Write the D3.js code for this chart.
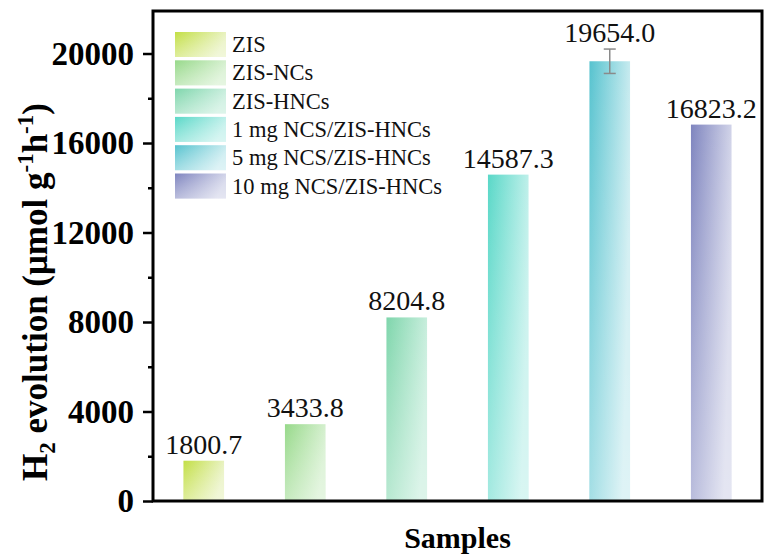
<!DOCTYPE html>
<html>
<head>
<meta charset="utf-8">
<script src="https://cdn.jsdelivr.net/npm/d3@7"></script>
<style>
  html, body { margin: 0; padding: 0; background: #fff; }
  svg { display: block; }
  text { font-family: "Liberation Serif", "Times New Roman", serif; }
</style>
</head>
<body>
<svg id="chart" width="764" height="559"></svg>
<script>
// Photocatalytic H2 evolution rates of each sample
const samples = ["ZIS", "ZIS-NCs", "ZIS-HNCs", "1 mg NCS/ZIS-HNCs", "5 mg NCS/ZIS-HNCs", "10 mg NCS/ZIS-HNCs"];
const rates = [1800.7, 3433.8, 8204.8, 14587.3, 19654.0, 16823.2];
const errors = [0, 0, 0, 0, 545, 0];
const majorTicks = [0, 4000, 8000, 12000, 16000, 20000];
const minorTicks = [2000, 6000, 10000, 14000, 18000];
const darkColors = ["#c3df45", "#97d98a", "#7fd6ac", "#5ad8c8", "#57c3cf", "#7f85bf"];
const lightColors = ["#eaf3c6", "#d8f1d2", "#cbefdf", "#c4f1ec", "#cdedf1", "#d6d8eb"];

const svg = d3.select("#chart");
const plot = { left: 153, right: 762, top: 11, bottom: 501 };

const x = d3.scaleBand()
  .domain(samples)
  .range([plot.left, plot.right])
  .paddingInner(0.6)
  .paddingOuter(0.3);

const y = d3.scaleLinear()
  .domain([0, 21900])
  .range([plot.bottom, plot.top]);

// Gradient fills: saturated at the top-left, fading toward the right
const defs = svg.append("defs");
samples.forEach((s, i) => {
  const g = defs.append("linearGradient")
    .attr("id", "grad" + i)
    .attr("x1", 0).attr("y1", 0)
    .attr("x2", 1).attr("y2", 0.25);
  g.append("stop").attr("offset", "0%").attr("stop-color", darkColors[i]);
  g.append("stop").attr("offset", "100%").attr("stop-color", lightColors[i]);
});
const fade = defs.append("linearGradient")
  .attr("id", "fade")
  .attr("x1", 0).attr("y1", 0).attr("x2", 0).attr("y2", 1);
fade.append("stop").attr("offset", "0%").attr("stop-color", "#fff").attr("stop-opacity", 0);
fade.append("stop").attr("offset", "100%").attr("stop-color", "#fff").attr("stop-opacity", 0.35);

// Bars
const bars = svg.append("g");
bars.selectAll("rect.bar")
  .data(rates)
  .join("rect")
  .attr("class", "bar")
  .attr("x", (d, i) => x(samples[i]))
  .attr("y", d => y(d))
  .attr("width", x.bandwidth())
  .attr("height", d => y(0) - y(d))
  .attr("fill", (d, i) => `url(#grad${i})`);
bars.selectAll("rect.fade")
  .data(rates)
  .join("rect")
  .attr("class", "fade")
  .attr("x", (d, i) => x(samples[i]))
  .attr("y", d => y(d))
  .attr("width", x.bandwidth())
  .attr("height", d => y(0) - y(d))
  .attr("fill", "url(#fade)");

// Error bars
const eb = svg.append("g").attr("stroke", "#8a8a8a").attr("stroke-width", 1.5);
rates.forEach((v, i) => {
  if (!errors[i]) return;
  const cx = x(samples[i]) + x.bandwidth() / 2;
  eb.append("line").attr("x1", cx).attr("x2", cx).attr("y1", y(v + errors[i])).attr("y2", y(v - errors[i]));
  eb.append("line").attr("x1", cx - 6).attr("x2", cx + 6).attr("y1", y(v + errors[i])).attr("y2", y(v + errors[i]));
  eb.append("line").attr("x1", cx - 6).attr("x2", cx + 6).attr("y1", y(v - errors[i])).attr("y2", y(v - errors[i]));
});

// Value labels
svg.append("g").selectAll("text")
  .data(rates)
  .join("text")
  .attr("x", (d, i) => x(samples[i]) + x.bandwidth() / 2)
  .attr("y", (d, i) => y(d + errors[i]) - 7)
  .attr("text-anchor", "middle")
  .attr("font-size", 28)
  .attr("fill", "#111")
  .text(d => d.toFixed(1));

// Left axis: major and minor ticks
const yAxis = svg.append("g")
  .attr("transform", `translate(${plot.left},0)`)
  .call(d3.axisLeft(y).tickValues(majorTicks).tickSize(10).tickPadding(9).tickFormat(d3.format("d")));
yAxis.select(".domain").remove();
yAxis.selectAll(".tick line").attr("stroke", "#000").attr("stroke-width", 2.5);
yAxis.selectAll(".tick text")
  .attr("font-family", "Liberation Serif, Times New Roman, serif")
  .attr("font-size", 33)
  .attr("font-weight", "bold")
  .attr("fill", "#000");

const yMinor = svg.append("g")
  .attr("transform", `translate(${plot.left},0)`)
  .call(d3.axisLeft(y).tickValues(minorTicks).tickSize(5).tickFormat(""));
yMinor.select(".domain").remove();
yMinor.selectAll(".tick line").attr("stroke", "#000").attr("stroke-width", 2.5);

// Frame
svg.append("rect")
  .attr("x", plot.left)
  .attr("y", plot.top)
  .attr("width", plot.right - plot.left)
  .attr("height", plot.bottom - plot.top)
  .attr("fill", "none")
  .attr("stroke", "#000")
  .attr("stroke-width", 3);

// Legend
const legend = svg.append("g");
samples.forEach((s, i) => {
  const row = legend.append("g").attr("transform", `translate(175,${32 + i * 28.3})`);
  row.append("rect").attr("width", 51).attr("height", 25).attr("fill", `url(#grad${i})`);
  row.append("rect").attr("width", 51).attr("height", 25).attr("fill", "url(#fade)");
  row.append("text")
    .attr("x", 57)
    .attr("y", 20)
    .attr("font-size", 22.5)
    .attr("fill", "#111")
    .text(s);
});

// Axis titles
svg.append("text")
  .attr("x", (plot.left + plot.right) / 2)
  .attr("y", 548)
  .attr("text-anchor", "middle")
  .attr("font-size", 30)
  .attr("font-weight", "bold")
  .text("Samples");

const yTitle = svg.append("text")
  .attr("transform", "translate(47,292) rotate(-90)")
  .attr("text-anchor", "middle")
  .attr("font-size", 35)
  .attr("font-weight", "bold");
yTitle.append("tspan").text("H");
yTitle.append("tspan").attr("font-size", 23).attr("dy", 8).text("2");
yTitle.append("tspan").attr("dy", -8).text(" evolution (μmol g");
yTitle.append("tspan").attr("font-size", 23).attr("dy", -14).text("-1");
yTitle.append("tspan").attr("dy", 14).text("h");
yTitle.append("tspan").attr("font-size", 23).attr("dy", -14).text("-1");
yTitle.append("tspan").attr("dy", 14).text(")");
</script>
</body>
</html>
